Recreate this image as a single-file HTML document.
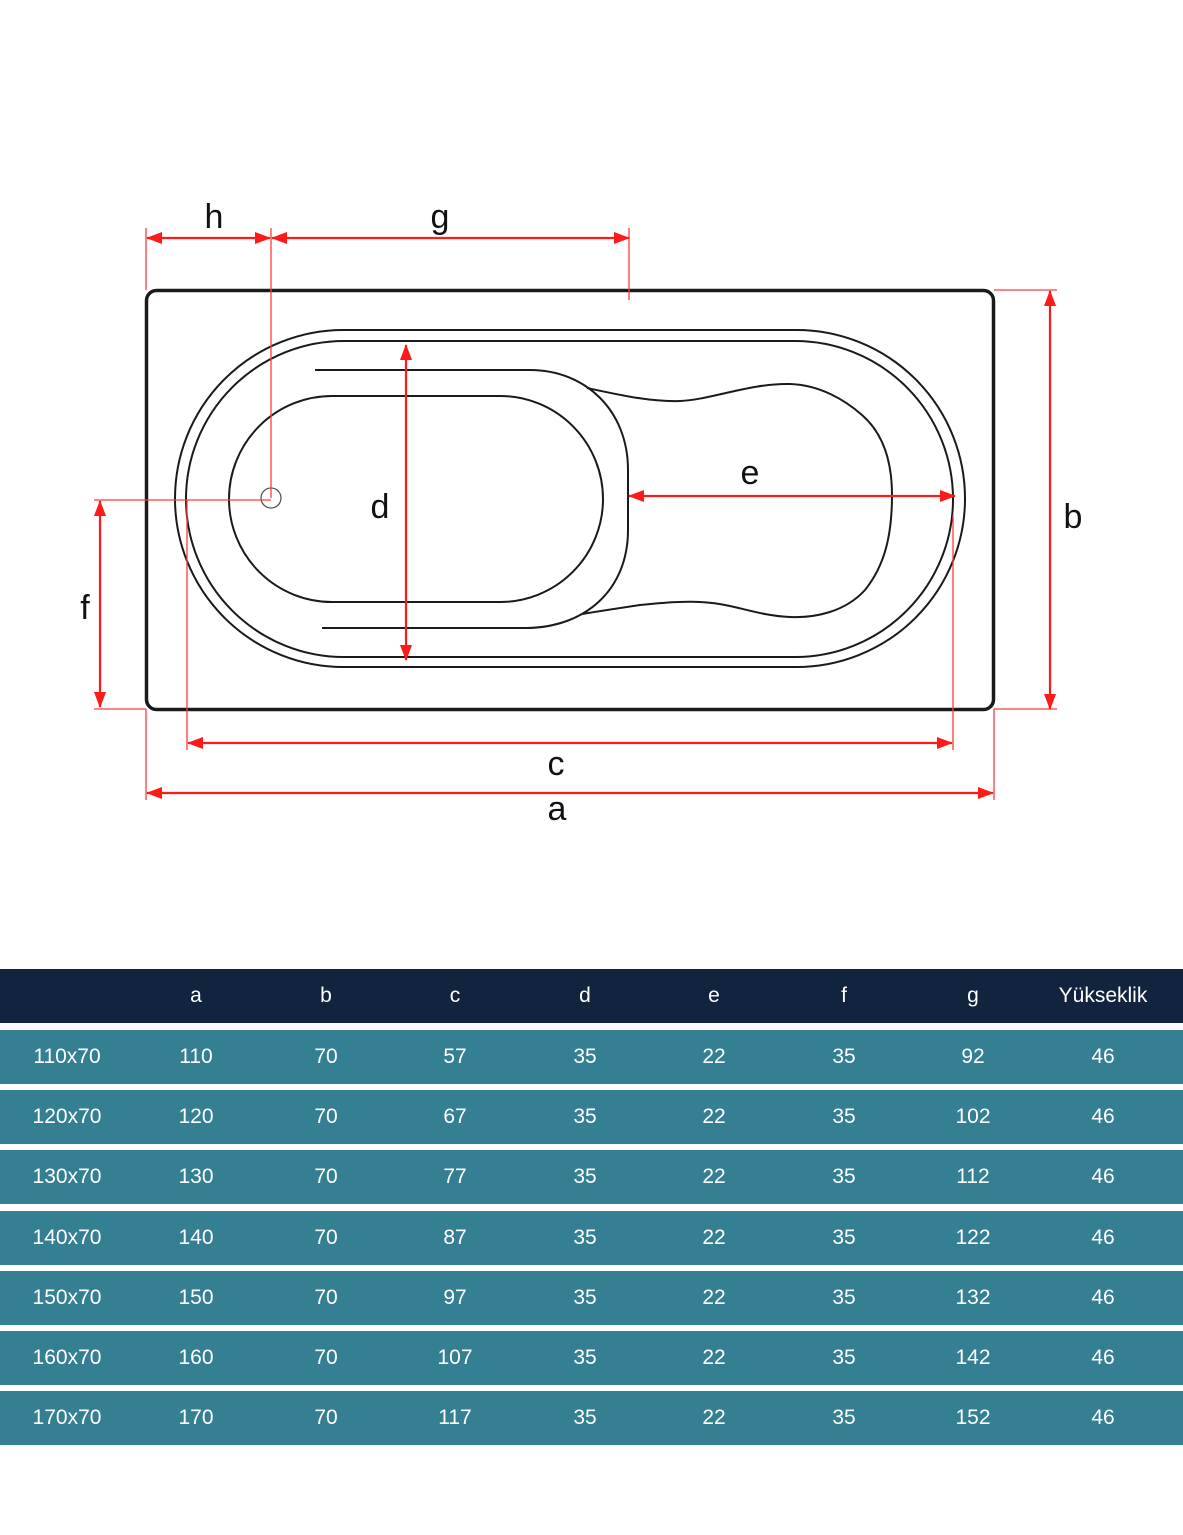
<!DOCTYPE html>
<html><head><meta charset="utf-8"><style>
html,body{margin:0;padding:0;background:#fff;}
body{width:1183px;height:1535px;position:relative;overflow:hidden;font-family:"Liberation Sans",Arial,sans-serif;}
svg{position:absolute;left:0;top:0;}
.row{position:absolute;left:0;width:1183px;height:54px;background:#357f93;color:#fff;font-size:21px;}
.hdr{background:#12243d;}
.row span{position:absolute;top:0;line-height:54px;width:120px;margin-left:-60px;text-align:center;}
</style></head><body>
<svg width="1183" height="960" viewBox="0 0 1183 960">
<defs>
<marker id="ar" markerWidth="16" markerHeight="12" refX="15" refY="6" orient="auto-start-reverse" markerUnits="userSpaceOnUse"><path d="M0,0 L16,6 L0,12 Z" fill="#ff1a1a"/></marker>
</defs>
<g fill="none" stroke="#1a1a1a" stroke-width="2">
<rect x="146.5" y="290.5" width="847" height="419" rx="10" stroke-width="3.5"/>
<rect x="175" y="330" width="790" height="337" rx="168.5"/>
<rect x="186" y="341" width="767" height="316" rx="158"/>
<rect x="229" y="396" width="374" height="206" rx="103"/>
<path d="M315,370 H530 C585,370 628,410 628,470 V530 C628,590 585,628 525,628 H322"/>
<path d="M587,388 C620,395 650,402 680,401 C710,400 750,383 790,384 C820,385 845,400 862,415 C885,435 892,465 892,495 C892,535 885,565 865,590 C845,612 815,618 790,617 C760,616 735,605 712,603 C690,600 660,603 640,605 C620,608 600,611 582,614"/>
</g>
<circle cx="271" cy="498" r="10" fill="none" stroke="#555" stroke-width="1.3"/>
<g stroke="#ff3b3b" stroke-width="1.3" fill="none">
<line x1="146" y1="228" x2="146" y2="290"/>
<line x1="271" y1="228" x2="271" y2="498"/>
<line x1="629" y1="228" x2="629" y2="300"/>
<line x1="994" y1="290" x2="1057" y2="290"/>
<line x1="994" y1="709" x2="1057" y2="709"/>
<line x1="94" y1="500" x2="271" y2="500"/>
<line x1="94" y1="709" x2="146" y2="709"/>
<line x1="187" y1="500" x2="187" y2="750"/>
<line x1="953" y1="515" x2="953" y2="750"/>
<line x1="146" y1="709" x2="146" y2="800"/>
<line x1="994" y1="709" x2="994" y2="800"/>
</g>
<g stroke="#ff1a1a" stroke-width="2.2" fill="none" marker-start="url(#ar)" marker-end="url(#ar)">
<line x1="147" y1="238" x2="270" y2="238"/>
<line x1="272" y1="238" x2="629" y2="238"/>
<line x1="1050" y1="291" x2="1050" y2="709"/>
<line x1="100" y1="501" x2="100" y2="707"/>
<line x1="406" y1="345" x2="406" y2="660"/>
<line x1="629" y1="496" x2="955" y2="496"/>
<line x1="188" y1="743" x2="952" y2="743"/>
<line x1="147" y1="793" x2="993" y2="793"/>
</g>
<g font-family="Liberation Sans,Arial,sans-serif" font-size="34" fill="#111" text-anchor="middle">
<text x="214" y="228">h</text>
<text x="440" y="228">g</text>
<text x="750" y="484">e</text>
<text x="380" y="518">d</text>
<text x="1073" y="528">b</text>
<text x="85" y="619">f</text>
<text x="556" y="775">c</text>
<text x="557" y="820">a</text>
</g>
</svg>
<div class="row hdr" style="top:969px;"><span style="left:196px">a</span><span style="left:326px">b</span><span style="left:455px">c</span><span style="left:585px">d</span><span style="left:714px">e</span><span style="left:844px">f</span><span style="left:973px">g</span><span style="left:1103px">Yükseklik</span></div>
<div class="row" style="top:1030px;"><span style="left:67px">110x70</span><span style="left:196px">110</span><span style="left:326px">70</span><span style="left:455px">57</span><span style="left:585px">35</span><span style="left:714px">22</span><span style="left:844px">35</span><span style="left:973px">92</span><span style="left:1103px">46</span></div>
<div class="row" style="top:1090px;"><span style="left:67px">120x70</span><span style="left:196px">120</span><span style="left:326px">70</span><span style="left:455px">67</span><span style="left:585px">35</span><span style="left:714px">22</span><span style="left:844px">35</span><span style="left:973px">102</span><span style="left:1103px">46</span></div>
<div class="row" style="top:1150px;"><span style="left:67px">130x70</span><span style="left:196px">130</span><span style="left:326px">70</span><span style="left:455px">77</span><span style="left:585px">35</span><span style="left:714px">22</span><span style="left:844px">35</span><span style="left:973px">112</span><span style="left:1103px">46</span></div>
<div class="row" style="top:1211px;"><span style="left:67px">140x70</span><span style="left:196px">140</span><span style="left:326px">70</span><span style="left:455px">87</span><span style="left:585px">35</span><span style="left:714px">22</span><span style="left:844px">35</span><span style="left:973px">122</span><span style="left:1103px">46</span></div>
<div class="row" style="top:1271px;"><span style="left:67px">150x70</span><span style="left:196px">150</span><span style="left:326px">70</span><span style="left:455px">97</span><span style="left:585px">35</span><span style="left:714px">22</span><span style="left:844px">35</span><span style="left:973px">132</span><span style="left:1103px">46</span></div>
<div class="row" style="top:1331px;"><span style="left:67px">160x70</span><span style="left:196px">160</span><span style="left:326px">70</span><span style="left:455px">107</span><span style="left:585px">35</span><span style="left:714px">22</span><span style="left:844px">35</span><span style="left:973px">142</span><span style="left:1103px">46</span></div>
<div class="row" style="top:1391px;"><span style="left:67px">170x70</span><span style="left:196px">170</span><span style="left:326px">70</span><span style="left:455px">117</span><span style="left:585px">35</span><span style="left:714px">22</span><span style="left:844px">35</span><span style="left:973px">152</span><span style="left:1103px">46</span></div>
</body></html>
